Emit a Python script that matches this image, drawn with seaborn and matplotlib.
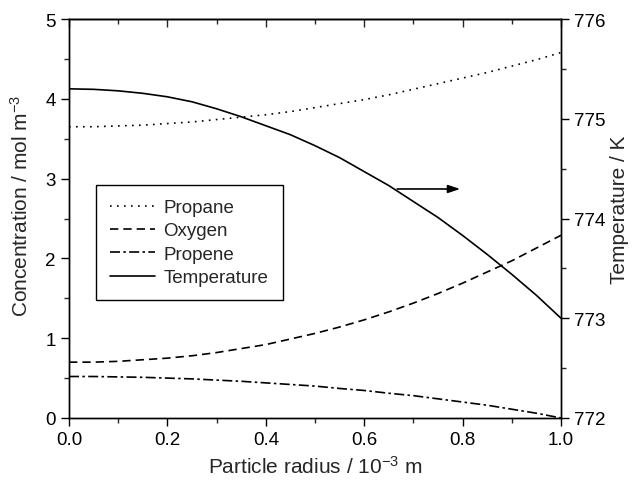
import matplotlib
matplotlib.use("Agg")
import matplotlib.pyplot as plt
import seaborn as sns
import numpy as np
import pandas as pd
from matplotlib.ticker import MultipleLocator
from matplotlib.lines import Line2D

radius = [0.0, 0.05, 0.1, 0.15, 0.2, 0.25, 0.3, 0.35, 0.4, 0.45, 0.5,
          0.55, 0.6, 0.65, 0.7, 0.75, 0.8, 0.85, 0.9, 0.95, 1.0]
propane = [3.65, 3.65, 3.66, 3.67, 3.69, 3.71, 3.74, 3.77, 3.80, 3.84, 3.89,
           3.94, 3.99, 4.05, 4.12, 4.19, 4.26, 4.33, 4.41, 4.49, 4.58]
oxygen = [0.70, 0.70, 0.71, 0.73, 0.75, 0.78, 0.82, 0.87, 0.92, 0.99, 1.06,
          1.14, 1.23, 1.33, 1.44, 1.56, 1.69, 1.83, 1.97, 2.13, 2.29]
propene = [0.52, 0.52, 0.515, 0.51, 0.50, 0.49, 0.475, 0.46, 0.44, 0.42, 0.40,
           0.37, 0.345, 0.31, 0.28, 0.24, 0.20, 0.16, 0.11, 0.06, 0.0]
temperature = [775.30, 775.295, 775.28, 775.255, 775.22, 775.17, 775.10, 775.02, 774.93, 774.84, 774.73,
               774.61, 774.47, 774.33, 774.17, 774.01, 773.83, 773.64, 773.44, 773.23, 773.00]

sns.set_style("ticks")
plt.rcParams["font.family"] = ["Liberation Sans", "DejaVu Sans"]
plt.rcParams["mathtext.fontset"] = "custom"
plt.rcParams["mathtext.rm"] = "Liberation Sans"
plt.rcParams["mathtext.it"] = "Liberation Sans"
plt.rcParams["font.size"] = 13.5

df = pd.DataFrame({"r": radius, "Propane": propane, "Oxygen": oxygen,
                   "Propene": propene, "Temperature": temperature})

fig = plt.figure(figsize=(6.35, 4.81), dpi=100)
ax = fig.add_axes([0.1087, 0.1289, 0.8835 - 0.1087, 0.9584 - 0.1289])
ax2 = ax.twinx()

lw = 1.2
styles = {"Propane": (0, (1, 3.2)), "Oxygen": (0, (5, 3)), "Propene": (0, (6, 2, 1.5, 2))}
for name in ["Propane", "Oxygen", "Propene"]:
    sns.lineplot(data=df, x="r", y=name, ax=ax, color="black", lw=lw,
                 linestyle=styles[name], legend=False)
sns.lineplot(data=df, x="r", y="Temperature", ax=ax2, color="black", lw=lw,
             linestyle="-", legend=False)

ax.set_xlim(0, 1.0)
ax.set_ylim(0, 5)
ax2.set_ylim(772, 776)

ax.xaxis.set_major_locator(MultipleLocator(0.2))
ax.xaxis.set_minor_locator(MultipleLocator(0.1))
ax.yaxis.set_major_locator(MultipleLocator(1))
ax.yaxis.set_minor_locator(MultipleLocator(0.5))
ax2.yaxis.set_major_locator(MultipleLocator(1))
ax2.yaxis.set_minor_locator(MultipleLocator(0.5))
ax.xaxis.set_major_formatter(matplotlib.ticker.FormatStrFormatter("%.1f"))

for a in (ax, ax2):
    for s in a.spines.values():
        s.set_linewidth(1.0)
        s.set_color("black")
    a.tick_params(which="major", length=6, width=1.0, direction="out", labelsize=13.5, colors="black")
    a.tick_params(which="minor", length=3.5, width=1.0, direction="out")

top = ax.secondary_xaxis("top")
top.xaxis.set_major_locator(MultipleLocator(0.2))
top.xaxis.set_minor_locator(MultipleLocator(0.1))
top.tick_params(which="major", direction="in", length=6, width=1.0, labeltop=False)
top.tick_params(which="minor", direction="in", length=3.5, width=1.0)
top.spines["top"].set_linewidth(1.0)

ax.set_xlabel("Particle radius / 10$^{-3}$ m", fontsize=15, labelpad=5)
ax.set_ylabel("Concentration / mol m$^{-3}$", fontsize=15)
ax2.set_ylabel("Temperature / K", fontsize=15)
ax.yaxis.set_label_coords(-0.075, 0.535)
ax2.yaxis.set_label_coords(1.10, 0.525)

ax.annotate("", xy=(0.795, 2.87), xytext=(0.667, 2.87),
            arrowprops=dict(arrowstyle="-|>,head_length=0.6,head_width=0.2", color="black",
                            lw=1.2, mutation_scale=12, shrinkA=0, shrinkB=0))

handles = [Line2D([], [], color="black", lw=lw, linestyle=styles["Propane"]),
           Line2D([], [], color="black", lw=lw, linestyle=styles["Oxygen"]),
           Line2D([], [], color="black", lw=lw, linestyle=styles["Propene"]),
           Line2D([], [], color="black", lw=lw, linestyle="-")]
leg = ax2.legend(handles, ["Propane", "Oxygen", "Propene", "Temperature"],
                 loc="upper left", bbox_to_anchor=(0.055, 0.584), fontsize=13.5,
                 frameon=True, fancybox=False, edgecolor="black", framealpha=1,
                 handlelength=2.4, handletextpad=0.45, labelspacing=0.33,
                 borderpad=0.75, borderaxespad=0)
leg.get_frame().set_linewidth(1.0)

fig.savefig("out.png", dpi=100)
